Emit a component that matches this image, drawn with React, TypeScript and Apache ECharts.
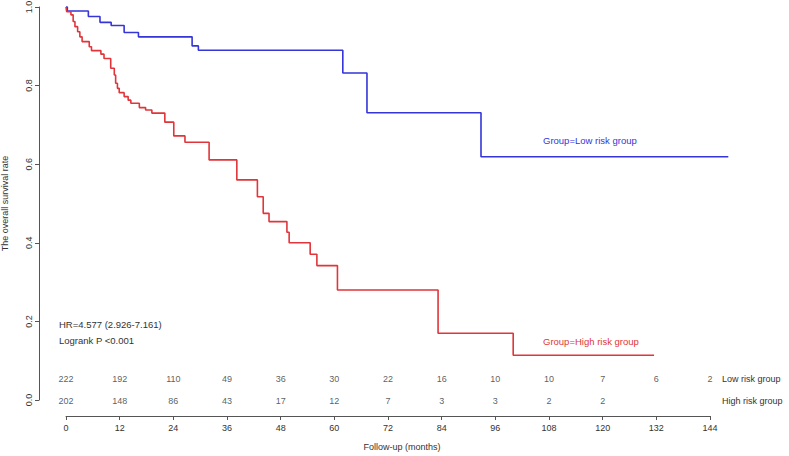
import React, { useEffect, useRef } from "react";
import * as echarts from "echarts";

// Kaplan-Meier step curves: [month, survival]
const lowRiskCurve: [number, number][] = [
  [0, 1.0], [0.3, 0.990], [5.0, 0.976], [7.6, 0.961], [10.1, 0.953], [13.0, 0.935],
  [16.2, 0.924], [28.2, 0.901], [29.6, 0.890], [61.9, 0.832], [67.3, 0.731],
  [92.8, 0.619], [148.1, 0.619],
];
const highRiskCurve: [number, number][] = [
  [0, 1.0], [0.15, 0.988], [1.1, 0.980], [1.6, 0.963], [2.0, 0.950], [2.6, 0.937],
  [3.1, 0.924], [3.6, 0.912], [5.2, 0.899], [5.7, 0.889], [7.8, 0.880], [8.5, 0.869],
  [10.0, 0.844], [10.8, 0.827], [11.1, 0.806], [11.5, 0.793], [11.9, 0.782],
  [13.0, 0.772], [13.9, 0.763], [14.5, 0.755], [16.4, 0.744], [17.8, 0.738],
  [19.2, 0.730], [22.1, 0.707], [24.1, 0.672], [26.6, 0.656], [32.0, 0.611],
  [38.2, 0.560], [42.8, 0.517], [44.1, 0.475], [45.4, 0.454], [49.4, 0.427],
  [49.9, 0.400], [54.6, 0.371], [56.1, 0.342], [60.7, 0.280], [83.2, 0.170],
  [100.0, 0.114], [131.5, 0.114],
];
const followUpEnd = 148.1;

// Numbers at risk
const riskTimes = [0, 12, 24, 36, 48, 60, 72, 84, 96, 108, 120, 132, 144];
const lowAtRisk = [222, 192, 110, 49, 36, 30, 22, 16, 10, 10, 7, 6, 2];
const highAtRisk = [202, 148, 86, 43, 17, 12, 7, 3, 3, 2, 2];
const groupNames = ["High risk group", "Low risk group"];

const hrText = "HR=4.577 (2.926-7.161)";
const pText = "Logrank P <0.001";
const lowLabel = "Group=Low risk group";
const highLabel = "Group=High risk group";

const FONT = "'Liberation Sans', Arial, sans-serif";
const BLUE = "#3535d8";
const RED = "#e0353a";
const TXT = "#333";
const AX = "#555";

export default function App() {
  const ref = useRef<HTMLDivElement>(null);
  useEffect(() => {
    if (!ref.current) return;
    const chart = echarts.init(ref.current, undefined, { renderer: "svg" });
    const riskData: any[] = [];
    lowAtRisk.forEach((n, i) => riskData.push([riskTimes[i], 1, n]));
    highAtRisk.forEach((n, i) => riskData.push([riskTimes[i], 0, n]));
    chart.setOption({
      animation: false,
      backgroundColor: "#fff",
      textStyle: { fontFamily: FONT },
      grid: [
        { left: 66, right: 60.7, top: 7, height: 393, containLabel: false, outerBoundsMode: "none" },
        { left: 66, right: 79, top: 368, height: 44, containLabel: false, outerBoundsMode: "none" },
      ],
      xAxis: [
        {
          gridIndex: 0,
          type: "value",
          min: 0,
          max: followUpEnd,
          show: false,
        },
        {
          gridIndex: 1,
          type: "value",
          min: 0,
          max: 144,
          interval: 12,
          offset: 4,
          position: "bottom",
          name: "Follow-up (months)",
          nameLocation: "middle",
          nameGap: 26,
          nameTextStyle: { fontSize: 9, color: TXT, fontFamily: FONT, padding: [0, 0, 0, 28] },
          axisLine: { show: true, onZero: false, lineStyle: { color: AX, width: 1 } },
          axisTick: { show: true, length: 4, lineStyle: { color: AX } },
          axisLabel: { fontSize: 9, color: TXT, margin: 7, fontFamily: FONT },
          splitLine: { show: false },
        },
      ],
      yAxis: [
        {
          gridIndex: 0,
          type: "value",
          min: 0,
          max: 1,
          interval: 0.2,
          offset: 27,
          name: "The overall survival rate",
          nameLocation: "middle",
          nameGap: 30,
          nameTextStyle: { fontSize: 9, color: TXT, fontFamily: FONT },
          axisLine: { show: true, onZero: false, lineStyle: { color: AX, width: 1 } },
          axisTick: { show: true, length: 4, lineStyle: { color: AX } },
          axisLabel: {
            fontSize: 9,
            color: TXT,
            rotate: 90,
            margin: 6,
            fontFamily: FONT,
            formatter: (v: number) => v.toFixed(1),
          },
          splitLine: { show: false },
        },
        {
          gridIndex: 1,
          type: "category",
          data: groupNames,
          position: "right",
          axisLine: { show: false },
          axisTick: { show: false },
          splitLine: { show: false },
          axisLabel: { fontSize: 9, color: TXT, margin: 12, align: "left", fontFamily: FONT },
        },
      ],
      series: [
        {
          type: "line",
          xAxisIndex: 0,
          yAxisIndex: 0,
          data: lowRiskCurve,
          step: "end",
          showSymbol: false,
          symbol: "none",
          clip: false,
          lineStyle: { color: BLUE, width: 1.6 },
        },
        {
          type: "line",
          xAxisIndex: 0,
          yAxisIndex: 0,
          data: highRiskCurve,
          step: "end",
          showSymbol: false,
          symbol: "none",
          clip: false,
          lineStyle: { color: RED, width: 1.6 },
        },
        {
          type: "scatter",
          xAxisIndex: 1,
          yAxisIndex: 1,
          data: riskData,
          symbolSize: 0,
          silent: true,
          label: {
            show: true,
            position: "inside",
            fontSize: 9,
            color: TXT,
            fontFamily: FONT,
            formatter: (p: any) => String(p.value[2]),
          },
        },
      ],
      graphic: [
        {
          type: "text",
          x: 59,
          y: 324,
          style: { text: hrText, fill: TXT, font: `9.5px ${FONT}`, textVerticalAlign: "middle" },
        },
        {
          type: "text",
          x: 59,
          y: 340,
          style: { text: pText, fill: TXT, font: `9.5px ${FONT}`, textVerticalAlign: "middle" },
        },
        {
          type: "text",
          x: 543,
          y: 140,
          style: { text: lowLabel, fill: BLUE, font: `9.5px ${FONT}`, textVerticalAlign: "middle" },
        },
        {
          type: "text",
          x: 543,
          y: 341,
          style: { text: highLabel, fill: RED, font: `9.5px ${FONT}`, textVerticalAlign: "middle" },
        },
      ],
    });
    return () => chart.dispose();
  }, []);
  return <div ref={ref} style={{ width: 789, height: 456, position: "absolute", left: 0, top: 0 }} />;
}
